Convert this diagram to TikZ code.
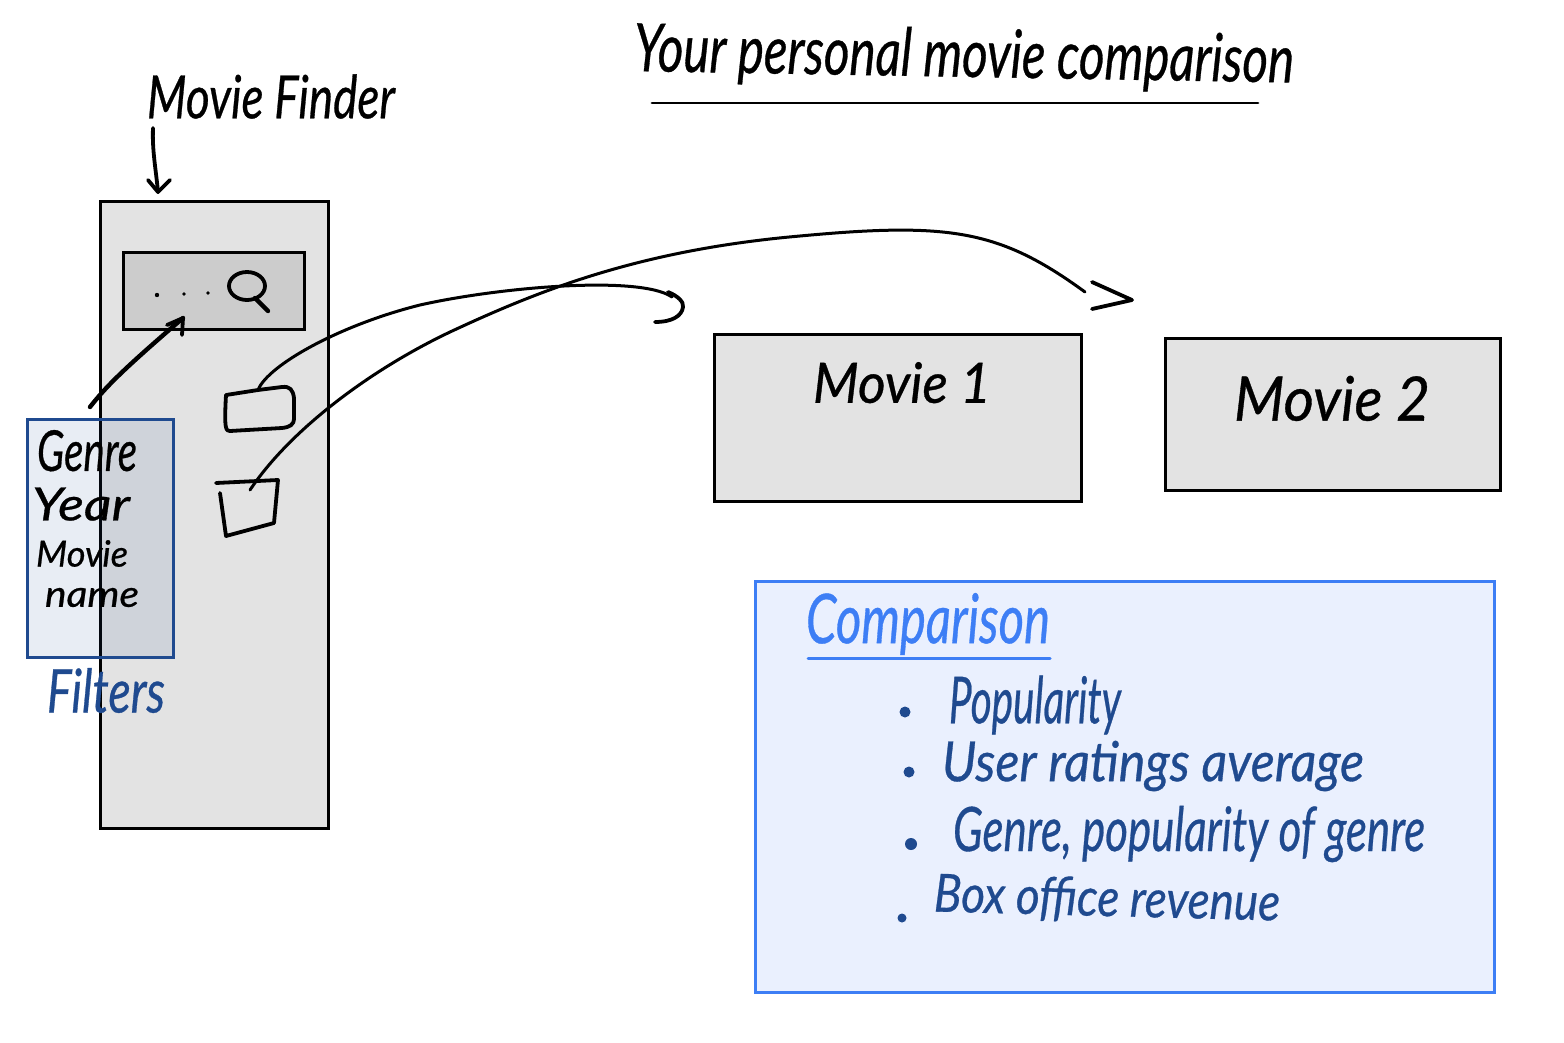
\documentclass[tikz,border=0pt]{standalone}
\usepackage{fontspec}
\usepackage{graphicx}
\setmainfont[ItalicFeatures={FakeBold=0.6}]{Lato}
\definecolor{panelgrey}{HTML}{E3E3E3}
\definecolor{bargrey}{HTML}{CCCCCC}
\definecolor{navyink}{HTML}{1F4A8F}
\definecolor{brightblue}{HTML}{3D7EF5}
\definecolor{palefill}{HTML}{EAF0FE}
\newcommand{\fitw}[3]{\scalebox{1}[#2]{\resizebox{#1pt}{!}{\strut\itshape\fontsize{40}{46}\selectfont #3}}}
\tikzset{
  panel/.style={draw=black,line width=3pt,fill=panelgrey,rectangle,minimum width=#1,inner sep=0pt},
  hand/.style={inner sep=0pt,anchor=center,text=black},
  handblue/.style={hand,text=navyink},
  sketch/.style={draw=black,line width=3.8pt,line cap=round,line join=round},
  curve/.style={draw=black,line width=3pt,line cap=round},
}
\begin{document}
\begin{tikzpicture}[x=1pt,y=-1pt]
\useasboundingbox (0,0) rectangle (1564,1042);
% panels
\node[panel=228pt,minimum height=627pt] (finder) at (214.5,515) {};
\node[panel=181pt,minimum height=77pt,fill=bargrey] (bar) at (213.5,291) {};
\node[panel=367pt,minimum height=167pt] (movieA) at (897.5,417.5) {};
\node[panel=335pt,minimum height=152pt] (movieB) at (1332.5,414.5) {};
\node[draw=brightblue,line width=3pt,fill=palefill,minimum width=739pt,minimum height=411pt,inner sep=0pt] (cmp) at (1125,786.5) {};
% filter overlay
\node[draw=navyink,line width=3pt,fill=navyink,fill opacity=0.1,draw opacity=1,minimum width=146pt,minimum height=238pt,inner sep=0pt] (filters) at (100,538.5) {};
% titles
\node[hand,rotate=-1] (ttl) at (964,58) {\fitw{660}{1.35}{Your personal movie comparison}};
\node[hand] (mf) at (271,99) {\fitw{248}{1.3}{Movie Finder}};
\coordinate (ulA) at (652,103);
\coordinate (ulB) at (1258,103);
\draw[line width=2.8pt,line cap=round] (ulA) -- (ulB);
% arrow to finder
\coordinate (mfArrow) at (153,128);
\coordinate (finderTop) at (158,192);
\draw[sketch] (mfArrow) .. controls (152,150) and (156,170) .. (finderTop);
\draw[sketch] (148,180) -- (finderTop) -- (170,180);
% search bar contents
\fill (157,295) circle (2.2pt);
\fill (184,294) circle (1.8pt);
\fill (208,293) circle (1.8pt);
\draw[sketch] (247,286) ellipse (18 and 14);
\draw[line width=4.4pt,line cap=round] (255,298) -- (268,311);
% filter arrow
\coordinate (barIn) at (183,318);
\coordinate (flt) at (90,407);
\draw[line width=4.4pt,line cap=round,line join=round] (flt) .. controls (105,388) and (120,372) .. (barIn);
\draw[sketch] (167,325) -- (barIn) -- (182,335);
% little cards
\coordinate (cardA) at (258,390);
\coordinate (cardB) at (250,490);
\draw[sketch] (226,395) -- (258,390) -- (282,387) .. controls (290,386) and (293,390) .. (294,398) -- (294,418) .. controls (294,425) and (290,427) .. (282,428) -- (230,431) .. controls (226,431) and (224,430) .. cycle;
\draw[sketch] (216,483) -- (278,480) -- (274,523) -- (226,536) -- (220,493);
% curved connectors
\coordinate (headA) at (683,307);
\coordinate (headB) at (1132,300);
\draw[curve] (cardA) .. controls (268,365) and (340,325) .. (420,305) .. controls (500,287) and (640,275) .. (672,297);
\draw[sketch] (668,292) .. controls (678,296) and (684,302) .. (headA) .. controls (682,316) and (672,322) .. (655,322);
\draw[curve] (cardB) .. controls (290,430) and (370,370) .. (450,332) .. controls (540,290) and (640,250) .. (800,236) .. controls (950,222) and (1000,230) .. (1085,292);
\draw[sketch] (1092,282) -- (headB) -- (1092,309);
% movie labels
\node[hand] (mA) at (902,385) {\fitw{178}{1.05}{Movie 1}};
\node[hand] (mB) at (1332,401) {\fitw{196}{1.05}{Movie 2}};
% filter labels
\node[hand] (g) at (87,453) {\fitw{100}{1.4}{Genre}};
\node[hand] (y) at (81,506) {\fitw{98}{0.85}{Year}};
\node[hand] (m) at (82,555) {\fitw{92}{1.0}{Movie}};
\node[hand] (n) at (92,599) {\fitw{94}{0.9}{name}};
\node[handblue] (f) at (106,693) {\fitw{118}{1.3}{Filters}};
% comparison text
\node[hand,text=brightblue] (ch) at (928,624) {\fitw{244}{1.4}{Comparison}};
\coordinate (cuA) at (808,658);
\coordinate (cuB) at (1050,658);
\draw[brightblue,line width=3pt,line cap=round] (cuA) -- (cuB);
\node[handblue] (p1) at (1035,705) {\fitw{172}{1.6}{Popularity}};
\node[handblue] (p2) at (1153,766) {\fitw{422}{1.1}{User ratings average}};
\node[handblue] (p3) at (1189,834) {\fitw{472}{1.4}{Genre, popularity of genre}};
\node[handblue,rotate=-1.5] (p4) at (1107,900) {\fitw{346}{1.15}{Box office revenue}};
\fill[navyink] (905,712) circle (5.5pt);
\fill[navyink] (909,772) circle (5.5pt);
\fill[navyink] (911,844) circle (6pt);
\fill[navyink] (902,918) circle (4.5pt);
\end{tikzpicture}
\end{document}
